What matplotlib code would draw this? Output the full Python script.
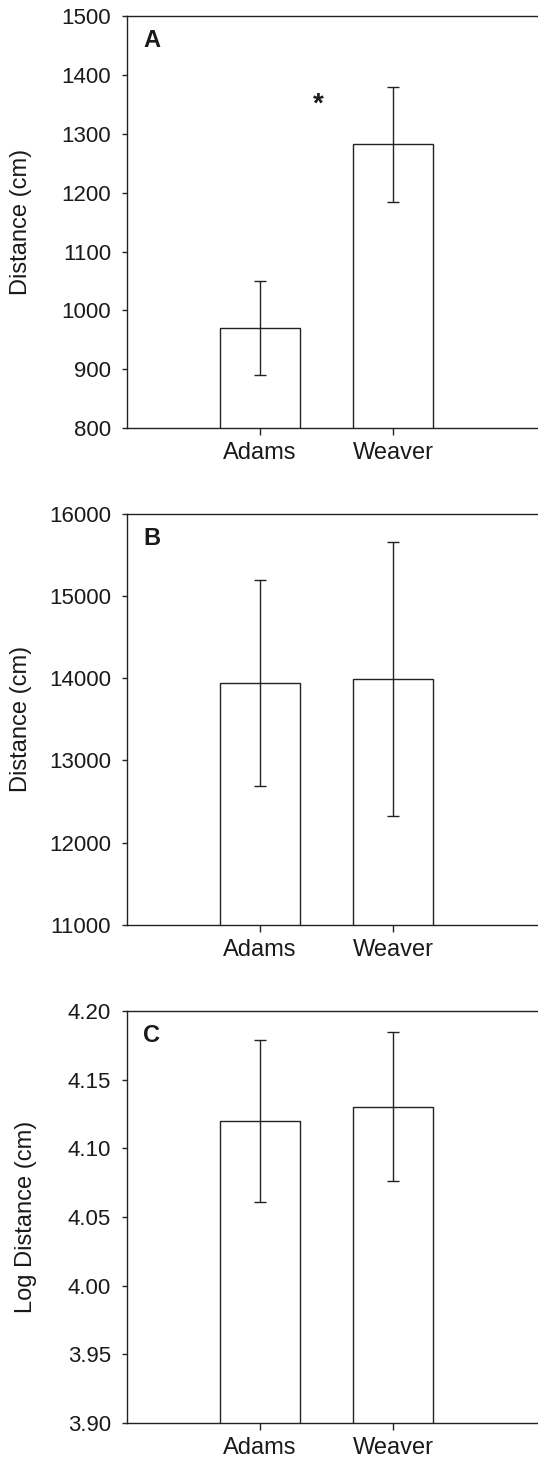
import matplotlib
matplotlib.use('Agg')
import matplotlib.pyplot as plt

plt.rcParams['font.family'] = ['Liberation Sans', 'DejaVu Sans']

sites = ['Adams', 'Weaver']

dist_a = [970, 1282]
err_a = [80, 98]

dist_b = [13942, 13990]
err_b = [1246, 1670]

logdist_c = [4.12, 4.1305]
err_c = [0.059, 0.054]

panels = [
    ('A', dist_a, err_a, (800, 1500), [800, 900, 1000, 1100, 1200, 1300, 1400, 1500], '{:.0f}', 'Distance (cm)', -0.231),
    ('B', dist_b, err_b, (11000, 16000), [11000, 12000, 13000, 14000, 15000, 16000], '{:.0f}', 'Distance (cm)', -0.231),
    ('C', logdist_c, err_c, (3.90, 4.20), [3.90, 3.95, 4.00, 4.05, 4.10, 4.15, 4.20], '{:.2f}', 'Log Distance (cm)', -0.219),
]

# axes boxes [bottom, top] in figure fraction
boxes = [(0.7074, 0.9889), (0.3677, 0.6489), (0.0275, 0.3088)]

col = '#222222'
txt = '#1a1a1a'
fig = plt.figure(figsize=(5.38, 14.63), dpi=100)

for (letter, vals, errs, ylim, yticks, fmt, ylab, labx), (b, t) in zip(panels, boxes):
    ax = fig.add_axes([0.236, b, 0.764, t - b])
    x = [1, 2]
    ax.bar(x, vals, width=0.6, color='white', edgecolor=col, linewidth=1.0, zorder=2)
    ax.errorbar(x, vals, yerr=errs, fmt='none', ecolor=col, elinewidth=1.0,
                capsize=4, capthick=1.0, zorder=3)
    ax.set_xlim(0, 3.09)
    ax.set_ylim(*ylim)
    ax.set_yticks(yticks)
    ax.set_yticklabels([fmt.format(v) for v in yticks])
    ax.set_xticks(x)
    ax.set_xticklabels(sites)
    ax.tick_params(axis='both', direction='out', colors=col, labelsize=16,
                   width=1.0, labelcolor=txt)
    ax.tick_params(axis='y', length=3.5, pad=8)
    ax.tick_params(axis='x', length=5, pad=5, labelsize=17)
    for s in ['left', 'top', 'bottom']:
        ax.spines[s].set_color(col)
        ax.spines[s].set_linewidth(1.0)
    ax.spines['right'].set_visible(False)
    ax.set_ylabel(ylab, fontsize=17, color=txt)
    ax.yaxis.set_label_coords(labx, 0.5)
    ax.text(0.039, 0.94, letter, transform=ax.transAxes, fontsize=17,
            fontweight='bold', color=txt, va='center', ha='left')
    if letter == 'A':
        ax.text(1.44, 1350, '*', fontsize=20, fontweight='bold',
                color=txt, ha='center', va='center')

fig.savefig('out.png', dpi=100)
